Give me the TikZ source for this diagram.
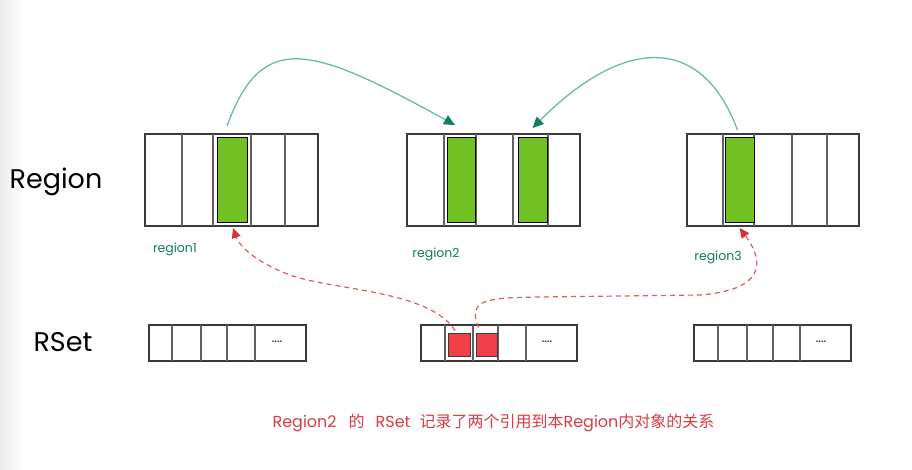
\documentclass[tikz,border=0pt]{standalone}
\usepackage{fontspec}
\setmainfont{Poppins}
\newfontfamily\cjk{Noto Sans CJK SC}
\usetikzlibrary{arrows.meta}
\definecolor{lime}{HTML}{72C124}
\definecolor{redsq}{HTML}{F2404B}
\definecolor{arrgreen}{HTML}{6CBC9E}
\definecolor{tipgreen}{HTML}{12805A}
\definecolor{lblgreen}{HTML}{0F7F55}
\definecolor{arrred}{HTML}{E45A62}
\definecolor{tipred}{HTML}{D8323D}
\definecolor{txtred}{HTML}{DD3A45}
\definecolor{edge}{HTML}{3A3A3A}
\tikzset{
  regbox/.style={draw=edge, line width=1.2pt, fill=white, minimum width=#1, minimum height=92, inner sep=0},
  rsetbox/.style={draw=edge, line width=1.2pt, fill=white, minimum width=#1, minimum height=36, inner sep=0},
  cell/.style={draw=black, line width=0.9pt, fill=lime, minimum width=#1, minimum height=85, inner sep=0},
  redcell/.style={draw=edge, line width=0.9pt, fill=redsq, minimum width=#1, minimum height=23, inner sep=0},
  divider/.style={draw=edge!80, line width=1.1pt},
  greenarr/.style={draw=arrgreen, line width=1.3pt, -{Triangle[length=11pt,width=10pt,color=tipgreen]}},
  redarr/.style={draw=arrred, line width=1.2pt, dash pattern=on 5pt off 4pt, -{Triangle[length=10pt,width=9pt,color=tipred]}},
  biglabel/.style={font=\fontsize{27}{30}\selectfont, text=black},
  smalllabel/.style={font=\fontsize{12.5}{14}\selectfont, text=lblgreen},
  dots/.style={font=\fontsize{9}{10}\selectfont\bfseries, text=edge}
}
\begin{document}
\begin{tikzpicture}[x=1pt,y=-1pt]
\useasboundingbox (0,0) rectangle (912,470);
\fill[white] (0,0) rectangle (912,470);
\shade[left color=black!8, right color=white] (0,0) rectangle (22,470);

% side labels
\node[biglabel] (lregion) at (56,182) {Region};
\node[biglabel] (lrset) at (63,342) {RSet};

% Region 1
\node[regbox=173] (r1) at (231.5,180) {};
\foreach \x in {182,213,251,285} \draw[divider] (\x,134) -- (\x,226);
\node[cell=30] (g1) at (232,180) {};
\node[smalllabel] (l1) at (175,249) {region1};

% Region 2
\node[regbox=173] (r2) at (493.5,180) {};
\foreach \x in {444,476,513,548} \draw[divider] (\x,134) -- (\x,226);
\node[cell=28] (g2a) at (461,180) {};
\node[cell=29] (g2b) at (532.5,180) {};
\node[smalllabel] (l2) at (436,254) {region2};

% Region 3
\node[regbox=172] (r3) at (773,180) {};
\foreach \x in {723,754,792,827} \draw[divider] (\x,134) -- (\x,226);
\node[cell=29] (g3) at (739.5,180) {};
\node[smalllabel] (l3) at (718,257) {region3};

% RSet 1
\node[rsetbox=157] (s1) at (227.5,343) {};
\foreach \x in {172,201,227,255} \draw[divider] (\x,325) -- (\x,361);
\node[dots] (d1) at (277,342) {....};

% RSet 2
\node[rsetbox=156] (s2) at (499,343) {};
\foreach \x in {445,473,498,526} \draw[divider] (\x,325) -- (\x,361);
\node[redcell=22] (q1) at (459,344.5) {};
\node[redcell=21] (q2) at (486.5,344.5) {};
\node[dots] (d2) at (547,342) {....};

% RSet 3
\node[rsetbox=157] (s3) at (772.5,343) {};
\foreach \x in {718,747,773,800} \draw[divider] (\x,325) -- (\x,361);
\node[dots] (d3) at (821,342) {....};

% green arrows
\draw[greenarr] ([xshift=-5pt,yshift=11pt]g1.north) .. controls (262,30) and (310,45) .. ([xshift=-6pt,yshift=12pt]g2a.north);
\draw[greenarr] ([xshift=-2pt,yshift=7pt]g3.north) .. controls (700,30) and (620,40) .. ([xshift=0pt,yshift=9pt]g2b.north);

% red dashed arrows
\draw[redarr] ([xshift=-4pt,yshift=2pt]q1.north) .. controls (430,290) and (330,290) .. (290,275) .. controls (260,264) and (240,248) .. ([xshift=1pt,yshift=-5pt]g1.south);
\draw[redarr] ([xshift=-8pt,yshift=5pt]q2.north) .. controls (466,298) and (490,298) .. (540,297) -- (700,295) .. controls (765,290) and (765,262) .. ([xshift=0pt,yshift=-5pt]g3.south);

% caption
\node[text=txtred, font=\fontsize{16}{18}\selectfont, inner sep=0] (cap) at (493.5,423) {Region2\hspace{12pt}{\cjk 的}\hspace{11pt}RSet\hspace{9pt}{\cjk 记录了两个引用到本}Region{\cjk 内对象的关系}};
\end{tikzpicture}
\end{document}
